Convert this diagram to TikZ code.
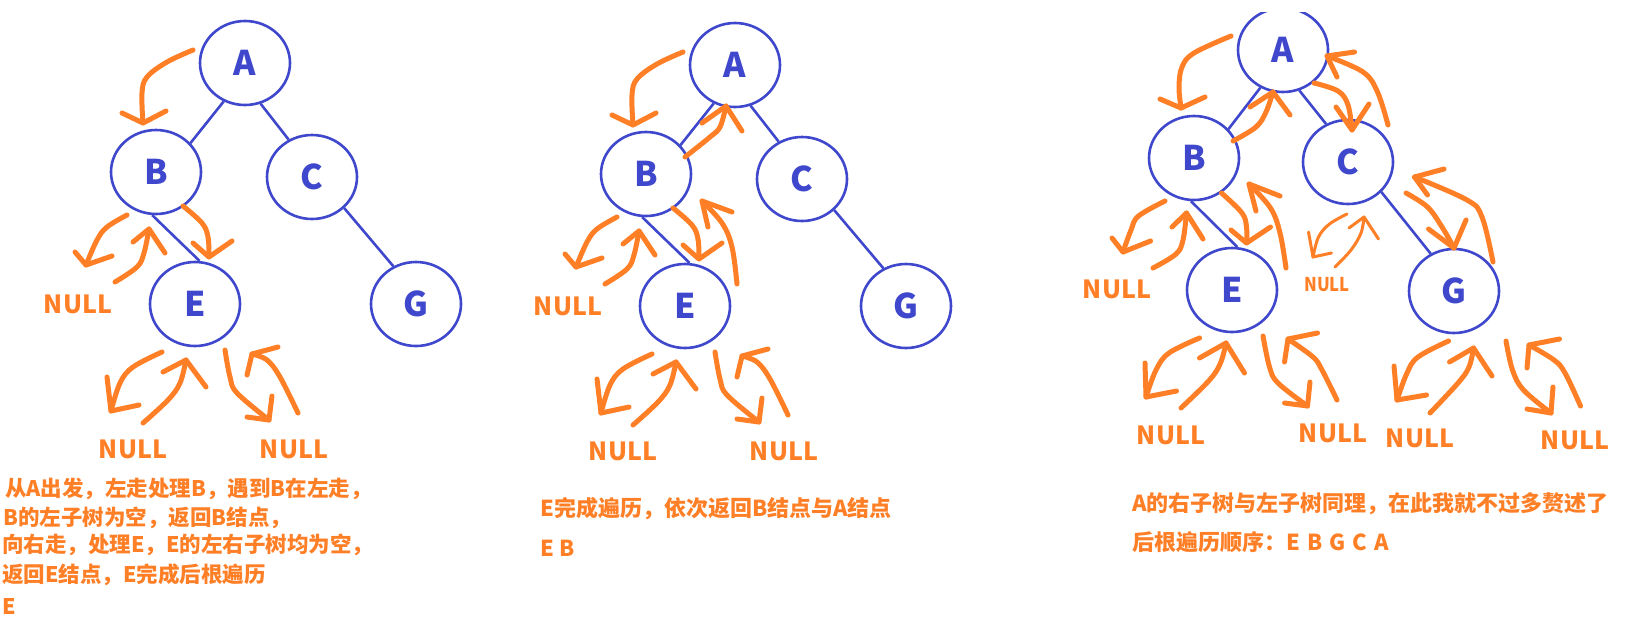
\documentclass[tikz,border=0pt]{standalone}
\usepackage{fontspec}
\setmainfont{Noto Sans CJK SC}
\usetikzlibrary{shapes.geometric}
\definecolor{pblue}{HTML}{3F48CC}
\definecolor{porange}{HTML}{FF7F27}
\tikzset{
 tn/.style={ellipse, draw=pblue, line width=2.6pt, minimum width=90pt, minimum height=84pt, inner sep=0pt, text=pblue, font=\bfseries\fontsize{34}{34}\selectfont},
 edge/.style={draw=pblue, line width=2.6pt},
 trav/.style={draw=porange, line width=5pt, line cap=round, line join=round},
 thintrav/.style={trav, line width=3pt},
 nulltxt/.style={text=porange, font=\bfseries\fontsize{25}{25}\selectfont, inner sep=0pt},
 smallnull/.style={text=porange, font=\bfseries\fontsize{19}{19}\selectfont, inner sep=0pt, xscale=0.88},
 note/.style={text=porange, anchor=west, inner sep=0pt, font=\bfseries\fontsize{22}{22}\selectfont},
 note1/.style={note, font=\bfseries\fontsize{21.5}{21.5}\selectfont},
}
\newcommand\harr[3][trav]{\draw[#1] plot[smooth,tension=0.6] coordinates {#2}; \draw[#1] #3;}
\newcommand\gapsp{\hspace{0.32em}}
\newcommand\panelonearrows{%
 \harr{(193,50) (167,62) (147,77) (142,93) (143,123)}{(122,113) -- (143,123) -- (166,111)}
 \harr{(127,215) (107,227) (97,240) (86,265)}{(75,252) -- (86,265) -- (112,256)}
 \harr{(115,282) (137,267) (144,253) (149,229)}{(133,242) -- (149,229) -- (165,253)}
 \harr{(183,206) (202,223) (208,237) (209,257)}{(193,243) -- (209,257) -- (232,241)}
 \harr{(162,352) (133,367) (120,383) (111,411)}{(107,377) -- (111,411) -- (139,405)}
 \harr{(143,423) (168,400) (180,383) (186,360)}{(163,372) -- (186,360) -- (206,387)}
 \harr{(225,350) (230,377) (237,393) (269,420)}{(272,396) -- (269,420) -- (247,417)}
 \harr{(298,413) (280,377) (267,360) (252,354)}{(247,375) -- (252,354) -- (278,347)}
}
\begin{document}
\begin{tikzpicture}[x=1pt,y=-1pt]
\fill[white] (0,0) rectangle (1630,622);
\useasboundingbox (0,0) rectangle (1630,622);

% ---------- panel 1 ----------
\node[tn] (A1) at (245,63) {A};
\node[tn] (B1) at (156,172) {B};
\node[tn] (C1) at (312,177) {C};
\node[tn] (E1) at (195,304) {E};
\node[tn] (G1) at (416,304) {G};
\draw[edge] (A1.241) -- (B1.40);
\draw[edge] (A1.-69) -- (C1.122);
\draw[edge] (B1.265) -- (E1.84);
\draw[edge] (C1.316) -- (G1.121);
\node[nulltxt] (n11) at (78,304) {NULL};
\node[nulltxt] (n12) at (133,449) {NULL};
\node[nulltxt] (n13) at (294,449) {NULL};
\panelonearrows
\node[note1] (t11) at (5,489) {从A出发，左走处理B，遇到B在左走，};
\node[note1] (t12) at (3,518) {B的左子树为空，返回B结点，};
\node[note1] (t13) at (2,545) {向右走，处理E，E的左右子树均为空，};
\node[note1] (t14) at (2,575) {返回E结点，E完成后根遍历};
\node[note1] (t15) at (2,606) {E};

% ---------- panel 2 ----------
\node[tn] (A2) at (735,65) {A};
\node[tn] (B2) at (646,174) {B};
\node[tn] (C2) at (802,179) {C};
\node[tn] (E2) at (685,306) {E};
\node[tn] (G2) at (906,306) {G};
\draw[edge] (A2.241) -- (B2.40);
\draw[edge] (A2.-69) -- (C2.122);
\draw[edge] (B2.265) -- (E2.84);
\draw[edge] (C2.316) -- (G2.121);
\node[nulltxt] (n21) at (568,306) {NULL};
\node[nulltxt] (n22) at (623,451) {NULL};
\node[nulltxt] (n23) at (784,451) {NULL};
\begin{scope}[shift={(490,2)}]
\panelonearrows
\end{scope}
\harr{(685,157) (710,137) (720,127) (726,106)}{(702,123) -- (726,106) -- (742,131)}
\harr{(737,284) (732,247) (722,223) (702,201)}{(708,227) -- (702,201) -- (732,212)}
\node[note] (t21) at (540,509) {E完成遍历，依次返回B结点与A结点};
\node[note] (t22) at (540,548) {E B};

% ---------- panel 3 ----------
\begin{scope}
\clip (1150,12) rectangle (1420,120);
\node[tn] (A3) at (1283,50) {A};
\end{scope}
\node[tn] (B3) at (1194,158) {B};
\node[tn] (C3) at (1348,162) {C};
\node[tn] (E3) at (1232,290) {E};
\node[tn] (G3) at (1454,291) {G};
\draw[edge] (A3.239) -- (B3.40);
\draw[edge] (A3.-68) -- (C3.120);
\draw[edge] (B3.266) -- (E3.83);
\draw[edge] (C3.318) -- (G3.122);
\node[nulltxt] (n31) at (1117,289) {NULL};
\node[smallnull] (n32) at (1327,285) {NULL};
\node[nulltxt] (n33) at (1171,435) {NULL};
\node[nulltxt] (n34) at (1333,433) {NULL};
\node[nulltxt] (n35) at (1420,438) {NULL};
\node[nulltxt] (n36) at (1575,440) {NULL};
\harr{(1231,36) (1194,53) (1182,67) (1179,87) (1181,108)}{(1160,99) -- (1181,108) -- (1205,97)}
\harr{(1233,141) (1256,127) (1266,112) (1273,92)}{(1250,107) -- (1273,92) -- (1290,115)}
\harr{(1165,201) (1138.5,216) (1131,230) (1123,252)}{(1112,238) -- (1123,252) -- (1150.5,241)}
\harr{(1153,268) (1176,254) (1183,240) (1186.5,213)}{(1172,227) -- (1186.5,213) -- (1203,239)}
\harr{(1221.5,193) (1242,213) (1246.5,227) (1246.5,243)}{(1231,230) -- (1246.5,243) -- (1270.5,227)}
\harr{(1286,268) (1280,233) (1270.5,208) (1249,184)}{(1256,211) -- (1249,184) -- (1280,196)}
\harr{(1314,83) (1338,91) (1348,105) (1352,130)}{(1336,107) -- (1352,130) -- (1369,104)}
\harr{(1388,125) (1377.5,92) (1363,72) (1327,56)}{(1337,77) -- (1327,56) -- (1354.5,52)}
\harr[thintrav]{(1347,214) (1329.5,224) (1318.5,237) (1313,257)}{(1308.5,232) -- (1313,257) -- (1331.5,253)}
\harr[thintrav]{(1335,267) (1351,250) (1361,233) (1364,217)}{(1349,228) -- (1364,217) -- (1378.5,239)}
\harr{(1406,193) (1427.5,207) (1442,227) (1454,248)}{(1428.5,229) -- (1454,248) -- (1466,220)}
\harr{(1493,262) (1482,217) (1467,200) (1414.5,177)}{(1427.5,195) -- (1414.5,177) -- (1444,169)}
\harr{(1199.5,338) (1169,353) (1156,370) (1146,397)}{(1145,363) -- (1146,397) -- (1176.5,391)}
\harr{(1181,408) (1209.5,380) (1220.5,363) (1226,343)}{(1199.5,358) -- (1226,343) -- (1244.5,373)}
\harr{(1263,336) (1269.5,367) (1278,383) (1307.5,406)}{(1310,382) -- (1307.5,406) -- (1284.5,403)}
\harr{(1337,400) (1322,370) (1313,357) (1288,339)}{(1284.5,362) -- (1288,339) -- (1317.5,333)}
\harr{(1448.5,341) (1418,357) (1407,373) (1397,400)}{(1394,366) -- (1397,400) -- (1426.5,395)}
\harr{(1430,413) (1458,383) (1469,367) (1473.5,348)}{(1449.5,362) -- (1473.5,348) -- (1492,376)}
\harr{(1506,341) (1512.5,370) (1523.5,390) (1551,413)}{(1553,387) -- (1551,413) -- (1527,409)}
\harr{(1580.5,406) (1565,373) (1554,360) (1529,345)}{(1527,368) -- (1529,345) -- (1559.5,339)}
\node[note] (t31) at (1132,504) {A的右子树与左子树同理，在此我就不过多赘述了};
\node[note] (t32) at (1132,542) {后根遍历顺序：E\gapsp B\gapsp G\gapsp C\gapsp A};
\end{tikzpicture}
\end{document}
